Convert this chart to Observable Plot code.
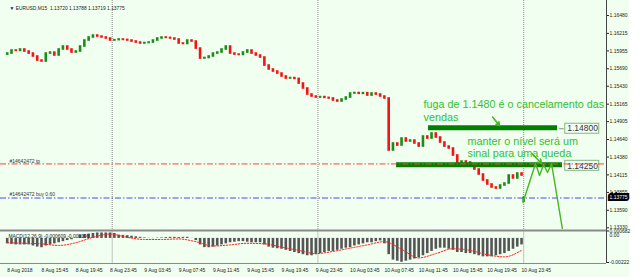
<!DOCTYPE html>
<html><head><meta charset="utf-8">
<script src="https://cdn.jsdelivr.net/npm/d3@7"></script>
<script src="https://cdn.jsdelivr.net/npm/@observablehq/plot@0.6"></script>
<style>
html,body{margin:0;padding:0;background:#fff;}
#chart{position:relative;width:641px;height:277px;overflow:hidden;background:linear-gradient(to right,#f0fff0 0,#f0fff0 629px,#ffffff 629px);}
#chart svg{position:absolute;left:0;}
</style></head><body><div id="chart"></div>
<script>
// ---------- DATA ----------
const symbolHeader = "▼ EURUSD,M15  1.13720 1.13788 1.13719 1.13775";
const startHour = 11.75;          // 8 Aug 11:45 (hours since 8 Aug 00:00, trading time)
const barStepHours = 0.5;
const firstOpen = 1.15900;
const closes = [
1.15916,1.15961,1.15955,1.15976,1.15946,1.15916,1.15872,1.15812,1.15798,1.15916,
1.15930,1.15887,1.15976,1.16020,1.15976,1.15931,1.15946,1.16020,1.16109,1.16154,
1.16183,1.16168,1.16154,1.16139,1.16109,1.16115,1.16124,1.16118,1.16109,1.16094,
1.16079,1.16065,1.16072,1.16079,1.16109,1.16139,1.16154,1.16148,1.16139,1.16124,
1.16065,1.16058,1.16109,1.16094,1.15990,1.15842,1.15850,1.15872,1.15916,1.15931,
1.15976,1.16020,1.15916,1.15901,1.15895,1.15931,1.15961,1.15916,1.15887,1.15857,
1.15738,1.15679,1.15649,1.15619,1.15575,1.15545,1.15552,1.15540,1.15471,1.15397,
1.15308,1.15278,1.15263,1.15270,1.15258,1.15249,1.15219,1.15204,1.15234,1.15263,
1.15323,1.15330,1.15318,1.15328,1.15293,1.15323,1.15308,1.15278,1.15249,1.14477,
1.14581,1.14551,1.14655,1.14611,1.14625,1.14581,1.14536,1.14685,1.14655,1.14729,
1.14670,1.14596,1.14536,1.14507,1.14403,1.14254,1.14314,1.14299,1.14254,1.14195,
1.14121,1.14032,1.13973,1.13928,1.13913,1.13958,1.13987,1.14106,1.14062,1.14136,
1.14106
];
const lastBarHour = 72, lastBarOpen = 1.13720, lastBarClose = 1.13775;

const macdHist = [
-0.0005,-0.00055,-0.0006,-0.0006,-0.0006,-0.0006,-0.0007,-0.0008,-0.00086,-0.0007,
-0.0006,-0.0005,-0.0004,-0.0003,-0.0002,-0.00012,0.00002,0.0003,0.00035,0.0004,
0.00045,0.0005,0.0005,0.0005,0.0005,0.00045,0.0003,0.00028,0.00025,0.0002,
0.00015,0.0001,0.00005,0.00001,-0.00002,0.00003,0.00005,0.00008,0.0001,0.0001,
0.00008,0.0001,0.0001,0.00001,-0.0002,-0.0006,-0.00085,-0.00086,-0.0008,-0.0007,
-0.0006,-0.0005,-0.0004,-0.00035,-0.0003,-0.0003,-0.00035,-0.0004,-0.0004,-0.0004,
-0.0006,-0.0008,-0.0009,-0.00095,-0.001,-0.0011,-0.0012,-0.0013,-0.0014,-0.0015,
-0.0016,-0.0016,-0.0015,-0.0014,-0.0013,-0.0012,-0.0012,-0.0011,-0.001,-0.0009,
-0.00086,-0.0007,-0.0006,-0.0005,-0.0004,-0.0004,-0.0003,-0.00023,-0.0005,-0.0015,
-0.002,-0.0021,-0.0022,-0.0021,-0.002,-0.0019,-0.0018,-0.0016,-0.0014,-0.0012,
-0.001,-0.0009,-0.0009,-0.001,-0.0011,-0.0013,-0.0013,-0.0014,-0.0014,-0.0015,
-0.0016,-0.0017,-0.0017,-0.0017,-0.0016,-0.0015,-0.0014,-0.0012,-0.001,-0.0008,
-0.0006
];
const signalHours = [11.75,13.75,15.75,17.75,19.75,21.75,23.75,25.75,27.75,29.75,31.75,33.75,35.75,37.75,39.75,41.75,43.75,45.75,47.75,49.75,51.75,53.75,55.75,57.75,59.75,61.75,63.75,65.75,67.75,69.75,71.75];
const signalValues = [-0.0004,-0.00045,-0.0005,-0.00065,-0.0004,0.0001,0.0004,0.0001,-0.0001,-0.0001,-0.00005,-0.0003,-0.0007,-0.0006,-0.00045,-0.0005,-0.0008,-0.0011,-0.0014,-0.0012,-0.0009,-0.0006,-0.0003,-0.001,-0.0018,-0.0014,-0.00095,-0.0011,-0.0015,-0.0017,-0.0011];

const priceTicks = [1.16480,1.16215,1.15955,1.15690,1.15430,1.15165,1.14905,1.14640,1.14380,1.14115,1.13855,1.13590,1.13330];
const macdTicks = [0.000682, -0.00222];
const macdTickLabels = ["0.000682", "-0.00222"];
const macdLabel = "MACD(12,26,9) -0.000609 -0.000196";
const timeTickHours = [11.75,15.75,19.75,23.75,27.75,31.75,35.75,39.75,43.75,47.75,51.75,55.75,59.75,63.75,67.75,71.75];
const timeTickLabels = ["8 Aug 2018","8 Aug 15:45","8 Aug 19:45","8 Aug 23:45","9 Aug 03:45","9 Aug 07:45","9 Aug 11:45","9 Aug 15:45","9 Aug 19:45","9 Aug 23:45","10 Aug 03:45","10 Aug 07:45","10 Aug 11:45","10 Aug 15:45","10 Aug 19:45","10 Aug 23:45"];
const daySeparatorHours = [24, 48, 72];

const tpPrice = 1.14278, buyPrice = 1.13772;
const tpLabel = "#14642472 tp", buyLabel = "#14642472 buy 0.60";

const levelPrices = [1.14800, 1.14250];
const levelLabels = ["1.14800", "1.14250"];
const levelStartHours = [60.90, 57.17];
const levelEndHours = [75.95, 76.53];
const levelLabelHours = [76.85, 76.85];

const zigHours = [71.92, 73.38, 73.85, 74.32, 74.78, 75.25, 76.60];
const zigPrices = [1.13706, 1.14284, 1.14106, 1.14269, 1.14151, 1.14284, 1.13250];

const arrowFromHours = [68.37, 72.97], arrowFromPrices = [1.14974, 1.14433];
const arrowToHours = [69.18, 74.08], arrowToPrices = [1.14848, 1.14284];

const noteLines = ["fuga de 1.1480 é o cancelamento das", "vendas", "manter o nível será um", "sinal para uma queda"];
const noteHours = [60.32, 60.32, 65.45, 65.45];
const notePrices = [1.15111, 1.14912, 1.14556, 1.14378];

// ---------- BUILD ----------
const FONT = "'Liberation Sans', Arial, sans-serif";
const xDomain = [10.968, 81.66];
const priceDomain = [1.13305, 1.16703];
const macdDomain = [-0.00222, 0.000682];
const bull = "#1a8c1a", bear = "#f41414";
const noteGreen = "#33c033", lineGreen = "#48b622";

const candles = closes.map((c, i) => ({hour: startHour + i * barStepHours, open: i === 0 ? firstOpen : closes[i - 1], close: c}));
candles.push({hour: lastBarHour, open: lastBarOpen, close: lastBarClose});
const levels = levelPrices.map((p, i) => ({price: p, label: levelLabels[i], start: levelStartHours[i], end: levelEndHours[i], labelHour: levelLabelHours[i]}));
const zig = zigHours.map((h, i) => ({hour: h, price: zigPrices[i]}));
const arrows = arrowFromHours.map((h, i) => ({x1: h, y1: arrowFromPrices[i], x2: arrowToHours[i], y2: arrowToPrices[i]}));
const notes = noteLines.map((t, i) => ({text: t, hour: noteHours[i], price: notePrices[i]}));
const macd = macdHist.map((v, i) => ({hour: startHour + i * barStepHours, value: v}));
const signal = signalHours.map((h, i) => ({hour: h, value: signalValues[i]}));
const dashDot = "6,2,1.5,2";

const priceChart = Plot.plot({
  width: 641, height: 229,
  marginLeft: 0, marginRight: 35, marginTop: 0, marginBottom: 0,
  style: {background: "transparent", fontFamily: FONT},
  x: {domain: xDomain, axis: null},
  y: {domain: priceDomain, axis: null},
  marks: [
    Plot.ruleX(daySeparatorHours, {stroke: "#8c8c8c", strokeDasharray: "1,1"}),
    Plot.ruleY([buyPrice], {stroke: "#4a4af0", strokeDasharray: dashDot}),
    Plot.ruleX(candles, {x: "hour", y1: d => Math.max(d.open, d.close), y2: d => Math.min(d.open, d.close),
      stroke: d => d.close >= d.open ? bull : bear, strokeWidth: 2.6, insetTop: -0.8, insetBottom: -0.8}),
    Plot.ruleY(levels, {y: "price", x1: "start", x2: "end", stroke: "#008000", strokeWidth: 5, dy: -1}),
    Plot.ruleY(levels, {y: "price", x1: "end", x2: "labelHour", insetLeft: 2, insetRight: 1, stroke: "#7a9a7a"}),
    Plot.rect(levels, {x1: "labelHour", x2: "labelHour", y1: "price", y2: "price", insetRight: -34, insetTop: -5, insetBottom: -5,
      fill: "#f6fff6", stroke: "#7fb87f"}),
    Plot.text(levels, {x: "labelHour", y: "price", text: "label", dx: 2, textAnchor: "start", fontSize: 8.5, fill: "#333", fontFamily: FONT}),
    Plot.ruleY([tpPrice], {stroke: "#ff4040", strokeDasharray: dashDot}),
    Plot.text([tpLabel], {text: d => d, frameAnchor: "left", y: () => tpPrice, dx: 9, dy: -3, textAnchor: "start", fontSize: 5, fill: "#333", fontFamily: FONT}),
    Plot.text([buyLabel], {text: d => d, frameAnchor: "left", y: () => buyPrice, dx: 9, dy: -3.5, textAnchor: "start", fontSize: 5, fill: "#333", fontFamily: FONT}),
    Plot.line(zig, {x: "hour", y: "price", stroke: lineGreen, strokeWidth: 1.4, clip: true}),
    Plot.arrow(arrows, {x1: "x1", y1: "y1", x2: "x2", y2: "y2", stroke: lineGreen, strokeWidth: 1.6, headLength: 5}),
    Plot.text(notes, {x: "hour", y: "price", text: "text", textAnchor: "start", lineAnchor: "bottom", fontSize: 10.8, fill: noteGreen, fontFamily: FONT}),
    Plot.text([symbolHeader], {text: d => d, frameAnchor: "top-left", dx: 9, dy: 7.5, textAnchor: "start", lineAnchor: "middle", fontSize: 4.9, fill: "#222", fontFamily: FONT}),
    Plot.ruleX([xDomain[1]], {stroke: "#444"}),
    Plot.axisY({anchor: "right", ticks: priceTicks, tickFormat: d3.format(".5f"), tickSize: 2, tickPadding: 1, fontSize: 5, label: null, color: "#222", fontFamily: FONT}),
    Plot.text([lastBarClose], {text: d => d3.format(".5f")(d), y: d => d, frameAnchor: "right", dx: 3, textAnchor: "start", fontSize: 5,
      fill: "#fff", stroke: "#000", strokeWidth: 4, strokeLinejoin: "miter", fontFamily: FONT})
  ]
});

const macdChart = Plot.plot({
  width: 641, height: 48,
  marginLeft: 0, marginRight: 35, marginTop: 1.5, marginBottom: 15,
  style: {background: "transparent", fontFamily: FONT},
  x: {domain: xDomain, axis: null},
  y: {domain: macdDomain, axis: null},
  marks: [
    Plot.ruleX(daySeparatorHours, {stroke: "#8c8c8c", strokeDasharray: "1,1", insetBottom: -1}),
    Plot.ruleX(macd, {x: "hour", y1: 0, y2: "value", stroke: "#555", strokeWidth: 2.6}),
    Plot.line(signal, {x: "hour", y: "value", stroke: "#ff2020", strokeWidth: 1, strokeDasharray: "1.5,1.5", curve: "monotone-x"}),
    Plot.ruleY([macdDomain[1]], {stroke: "#8a8a8a", strokeWidth: 2, dy: -0.5}),
    Plot.ruleY([macdDomain[0]], {stroke: "#8a8a8a", dy: 1}),
    Plot.ruleX([xDomain[1]], {stroke: "#444", insetTop: -2, insetBottom: -1}),
    Plot.axisY({anchor: "right", ticks: macdTicks, tickFormat: (d, i) => macdTickLabels[i], tickSize: 2, tickPadding: 1, fontSize: 5, label: null, color: "#222", fontFamily: FONT}),
    Plot.text(["0.00"], {text: d => d, frameAnchor: "top-right", dx: 3, dy: 4, textAnchor: "start", lineAnchor: "middle", fontSize: 5, fill: "#222", fontFamily: FONT}),
    Plot.text([macdLabel], {text: d => d, frameAnchor: "top-left", dx: 8, dy: 5, textAnchor: "start", lineAnchor: "middle", fontSize: 4.9, fill: "#222", fontFamily: FONT}),
    Plot.text(timeTickHours, {x: d => d, text: (d, i) => timeTickLabels[i], frameAnchor: "bottom", dy: 8, textAnchor: "start", lineAnchor: "middle", fontSize: 5, fill: "#222", fontFamily: FONT})
  ]
});

const root = document.getElementById("chart");
priceChart.style.top = "0px";
macdChart.style.top = "229px";
root.appendChild(priceChart);
root.appendChild(macdChart);
</script>
</body></html>
